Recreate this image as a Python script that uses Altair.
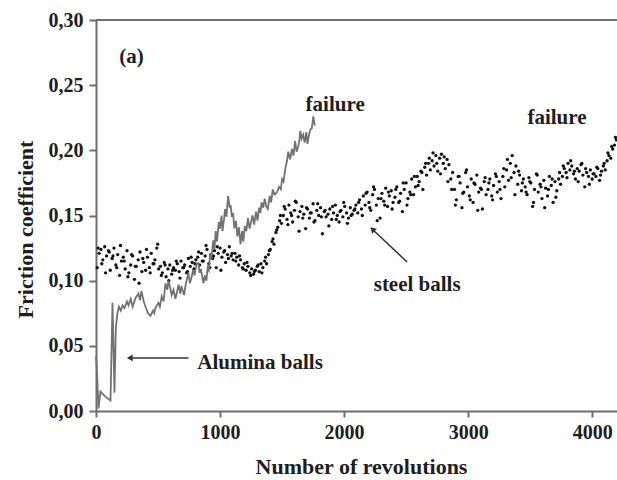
import altair as alt
import pandas as pd

# Friction coefficient vs. number of revolutions
alumina_revs = [0, 8, 20, 36, 75, 117, 133, 149, 160, 172,
                185, 200, 215, 230, 250, 262, 280, 295, 320, 342,
                355, 366, 385, 399, 420, 439, 460, 470, 479, 503,
                515, 530, 545, 560, 575, 584, 600, 610, 625, 640,
                655, 665, 680, 688, 700, 710, 725, 745, 757, 769,
                782, 795, 810, 825, 835, 845, 866, 878, 890, 900,
                910, 920, 930, 945, 955, 965, 975, 990, 1000, 1012,
                1020, 1032, 1040, 1052, 1065, 1078, 1085, 1095, 1105, 1115,
                1128, 1140, 1152, 1165, 1178, 1188, 1200, 1212, 1225, 1238,
                1250, 1262, 1275, 1290, 1302, 1315, 1325, 1335, 1348, 1360,
                1372, 1385, 1400, 1412, 1425, 1440, 1460, 1475, 1490, 1500,
                1512, 1526, 1540, 1550, 1565, 1580, 1592, 1605, 1617, 1630,
                1640, 1647, 1658, 1670, 1682, 1695, 1705, 1715, 1728, 1740,
                1752, 1760, 1765]
alumina_mu = [0.042, 0.030, 0.002, 0.015, 0.011, 0.008, 0.083, 0.014, 0.064, 0.075,
              0.080, 0.077, 0.081, 0.079, 0.084, 0.081, 0.086, 0.080, 0.087, 0.090,
              0.085, 0.092, 0.084, 0.080, 0.075, 0.073, 0.077, 0.075, 0.079, 0.083,
              0.080, 0.088, 0.084, 0.098, 0.093, 0.100, 0.094, 0.089, 0.093, 0.086,
              0.092, 0.097, 0.090, 0.096, 0.092, 0.089, 0.098, 0.106, 0.098, 0.102,
              0.108, 0.104, 0.113, 0.1135, 0.106, 0.109, 0.098, 0.104, 0.100, 0.110,
              0.108, 0.121, 0.117, 0.131, 0.124, 0.138, 0.130, 0.145, 0.140, 0.150,
              0.138, 0.147, 0.155, 0.149, 0.165, 0.156, 0.158, 0.149, 0.152, 0.140,
              0.146, 0.134, 0.141, 0.128, 0.138, 0.130, 0.142, 0.138, 0.148, 0.140,
              0.145, 0.150, 0.143, 0.153, 0.146, 0.156, 0.152, 0.160, 0.156, 0.163,
              0.157, 0.155, 0.165, 0.160, 0.170, 0.166, 0.168, 0.172, 0.170, 0.178,
              0.176, 0.186, 0.192, 0.199, 0.193, 0.201, 0.196, 0.207, 0.199, 0.203,
              0.208, 0.215, 0.209, 0.212, 0.206, 0.214, 0.205, 0.211, 0.216, 0.217,
              0.226, 0.221, 0.219]

# steel balls, first set of readings: every 15 revolutions starting at 10
steel_mu_a = [
    0.110, 0.121, 0.124, 0.116, 0.126, 0.119, 0.123, 0.108, 0.117, 0.125, 0.112, 0.120, 0.104, 0.115,
    0.118, 0.109, 0.123, 0.106, 0.112, 0.119, 0.101, 0.111, 0.116, 0.122,
    0.107, 0.114, 0.108, 0.118, 0.110, 0.121, 0.113, 0.116, 0.125, 0.109,
    0.111, 0.106, 0.114, 0.103, 0.109, 0.112, 0.105, 0.110, 0.108, 0.113,
    0.107, 0.115, 0.110, 0.112, 0.106, 0.117, 0.111, 0.114, 0.109, 0.116,
    0.118, 0.112, 0.121, 0.115, 0.119, 0.124, 0.113, 0.120, 0.117, 0.123,
    0.110, 0.121, 0.125, 0.118, 0.122, 0.114, 0.120, 0.126, 0.119, 0.116,
    0.121, 0.118, 0.112, 0.116, 0.110, 0.113, 0.108, 0.111,
    0.106, 0.109, 0.105, 0.108, 0.111, 0.107, 0.113, 0.110,
    0.115, 0.113, 0.120, 0.124, 0.130, 0.128, 0.137, 0.141, 0.146, 0.144,
    0.150, 0.155, 0.147, 0.158, 0.152, 0.145, 0.154, 0.160, 0.149, 0.153,
    0.157, 0.151, 0.140, 0.155, 0.148, 0.152, 0.159, 0.146, 0.154, 0.150,
    0.156, 0.136, 0.153, 0.149, 0.151, 0.155, 0.147, 0.152, 0.158, 0.150,
    0.145, 0.154, 0.149, 0.157, 0.152, 0.148, 0.156, 0.151, 0.154, 0.158,
    0.152, 0.162, 0.155, 0.165, 0.158, 0.168, 0.160, 0.154, 0.166, 0.170,
    0.158, 0.163, 0.148, 0.167, 0.161, 0.171, 0.157, 0.165, 0.169, 0.160,
    0.164, 0.172, 0.160, 0.167, 0.153, 0.170, 0.175, 0.163, 0.168, 0.178,
    0.166, 0.172, 0.180, 0.176, 0.184, 0.170, 0.187, 0.181, 0.190, 0.185,
    0.192, 0.188, 0.196, 0.184, 0.194, 0.197, 0.190, 0.186, 0.193, 0.189,
    0.178, 0.183, 0.170, 0.162, 0.180, 0.175, 0.156, 0.168, 0.183, 0.172,
    0.165, 0.178, 0.160, 0.174, 0.181, 0.168, 0.171, 0.155, 0.176, 0.166,
    0.170, 0.178, 0.165, 0.173, 0.182, 0.168, 0.176, 0.163, 0.180, 0.172,
    0.185, 0.177, 0.190, 0.196, 0.183, 0.188, 0.174, 0.181, 0.169, 0.178,
    0.172, 0.166, 0.179, 0.175, 0.157, 0.170, 0.182, 0.168, 0.174, 0.163,
    0.177, 0.171, 0.165, 0.180, 0.173, 0.160, 0.176, 0.169, 0.178, 0.174,
    0.180, 0.186, 0.183, 0.190, 0.185, 0.188, 0.182, 0.178, 0.186, 0.184,
    0.189, 0.181, 0.172, 0.183, 0.180, 0.185, 0.178,
    0.182, 0.180, 0.186, 0.177, 0.184, 0.188, 0.185, 0.192, 0.196, 0.194,
    0.201, 0.204, 0.208,
]
steel_revs_a = [10 + 15 * i for i in range(len(steel_mu_a))]

# steel balls, second set of readings: every 30 revolutions starting at 17
steel_mu_b = [
    0.125, 0.113, 0.106, 0.122, 0.119, 0.110, 0.127,
    0.115, 0.103, 0.120, 0.111, 0.098, 0.117, 0.124, 0.106, 0.113, 0.128,
    0.104, 0.112, 0.100, 0.108, 0.115, 0.102, 0.110, 0.107, 0.118, 0.113,
    0.122, 0.115, 0.127, 0.110, 0.119, 0.126, 0.108, 0.123, 0.117, 0.121,
    0.115, 0.119, 0.109, 0.114, 0.104, 0.107, 0.112, 0.106,
    0.118, 0.123, 0.132, 0.139, 0.150,
    0.157, 0.143, 0.150, 0.161, 0.138, 0.148, 0.156, 0.152, 0.145, 0.159,
    0.149, 0.154, 0.142, 0.157, 0.147, 0.153, 0.160, 0.144, 0.150, 0.155,
    0.160, 0.150, 0.167, 0.156, 0.172, 0.146, 0.163, 0.158, 0.168, 0.155,
    0.170, 0.161, 0.175, 0.158, 0.166, 0.180, 0.173, 0.183, 0.190, 0.194,
    0.198, 0.190, 0.182, 0.195, 0.176,
    0.170, 0.158, 0.180, 0.167, 0.185, 0.162, 0.175, 0.154, 0.170, 0.179,
    0.175, 0.162, 0.180, 0.170, 0.186, 0.193, 0.179, 0.166, 0.184, 0.175,
    0.168, 0.176, 0.160, 0.181, 0.172, 0.156, 0.170, 0.178, 0.164, 0.183,
    0.188, 0.179, 0.192, 0.184, 0.176, 0.190, 0.186, 0.174, 0.182,
    0.187, 0.181, 0.190, 0.198, 0.203, 0.210,
]
steel_revs_b = [17 + 30 * i for i in range(len(steel_mu_b))]

y_ticks = [0.0, 0.05, 0.10, 0.15, 0.20, 0.25, 0.30]
x_ticks = [0, 1000, 2000, 3000, 4000]

FONT = "Liberation Serif"
AXIS_GREY = "#6e6e6e"
INK = "#1e1e1e"

alumina = pd.DataFrame({"rev": alumina_revs, "mu": alumina_mu})
steel = pd.DataFrame({"rev": steel_revs_a + steel_revs_b, "mu": steel_mu_a + steel_mu_b})

x_scale = alt.Scale(domain=[0, 4200], nice=False, zero=False)
y_scale = alt.Scale(domain=[0, 0.30], nice=False)

x_axis = alt.Axis(
    title="Number of revolutions", values=x_ticks, format="d",
    labelFont=FONT, labelFontWeight="bold", labelFontSize=20, labelColor=INK,
    labelPadding=5, labelBaseline="top",
    titleFont=FONT, titleFontWeight="bold", titleFontSize=22, titleColor=INK,
    titleX=265, titleY=55, titleBaseline="middle",
    tickSize=6, tickWidth=2, tickColor=AXIS_GREY,
    domainColor=AXIS_GREY, domainWidth=2, grid=False, labelFlush=False,
)
y_axis = alt.Axis(
    title="Friction coefficient", values=y_ticks,
    labelExpr="replace(format(datum.value, '.2f'), '.', ',')",
    labelFont=FONT, labelFontWeight="bold", labelFontSize=20, labelColor=INK,
    labelPadding=6,
    titleFont=FONT, titleFontWeight="bold", titleFontSize=22, titleColor=INK,
    titleAngle=270, titleX=-71, titleY=209, titleAlign="center", titleBaseline="middle",
    tickSize=7, tickWidth=2, tickColor=AXIS_GREY,
    domainColor=AXIS_GREY, domainWidth=2, grid=False,
)

steel_pts = alt.Chart(steel).mark_circle(size=11, color="#111", opacity=1).encode(
    x=alt.X("rev:Q", scale=x_scale, axis=x_axis),
    y=alt.Y("mu:Q", scale=y_scale, axis=y_axis),
)

alumina_line = alt.Chart(alumina).mark_line(color="#727272", strokeWidth=1.8).encode(
    x=alt.X("rev:Q", scale=x_scale),
    y=alt.Y("mu:Q", scale=y_scale),
)

# top frame line
top_frame = alt.Chart().mark_rule(color=AXIS_GREY, strokeWidth=2).encode(
    x=alt.value(0), x2=alt.value(521), y=alt.datum(0.30, scale=y_scale)
)


def label(txt, x, y, align="center"):
    return alt.Chart().mark_text(
        text=txt, font=FONT, fontWeight="bold", fontSize=21, color=INK,
        align=align, baseline="middle",
    ).encode(x=alt.datum(x, scale=x_scale), y=alt.datum(y, scale=y_scale))


def arrow(x0, y0, x1, y1, angle):
    shaft = alt.Chart().mark_rule(color="#333", strokeWidth=1.5).encode(
        x=alt.datum(x0, scale=x_scale), y=alt.datum(y0, scale=y_scale),
        x2=alt.datum(x1), y2=alt.datum(y1),
    )
    head = alt.Chart().mark_point(
        shape="triangle", size=45, filled=True, color="#333", opacity=1, angle=angle
    ).encode(x=alt.datum(x1, scale=x_scale), y=alt.datum(y1, scale=y_scale))
    return shaft + head


chart = alt.layer(
    top_frame,
    steel_pts,
    alumina_line,
    label("(a)", 286, 0.2716),
    label("failure", 1928, 0.2348),
    label("failure", 3716, 0.2248),
    label("steel balls", 2589, 0.0967),
    label("Alumina balls", 817, 0.0368, align="left"),
    arrow(745, 0.0407, 280, 0.0407, 270),
    arrow(2508, 0.1143, 2234, 0.1389, 313),
).properties(
    width=521, height=391,
    autosize=alt.AutoSizeParams(type="none"),
    padding={"left": 96, "top": 20, "right": 0, "bottom": 69},
).configure_view(stroke=None)

chart.save("out.html", embed_options={"renderer": "svg", "actions": False})
